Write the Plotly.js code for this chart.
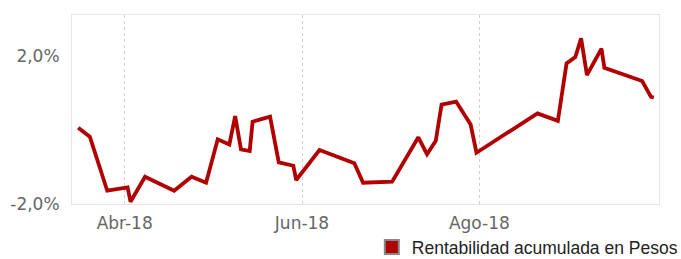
<!DOCTYPE html>
<html>
<head>
<meta charset="utf-8">
<script src="https://cdn.plot.ly/plotly-3.0.1.min.js"></script>
<style>html,body{margin:0;padding:0;background:#fff;}#chart{width:681px;height:259px;}</style>
</head>
<body>
<div id="chart"></div>
<script>
const dates = ['2018-03-16','2018-03-20','2018-03-26','2018-04-02','2018-04-03','2018-04-08','2018-04-18','2018-04-24','2018-04-29','2018-05-03','2018-05-07','2018-05-09','2018-05-11','2018-05-14','2018-05-15','2018-05-21','2018-05-24','2018-05-29','2018-05-30','2018-06-07','2018-06-19','2018-06-22','2018-07-02','2018-07-11','2018-07-14','2018-07-17','2018-07-19','2018-07-24','2018-07-29','2018-07-31','2018-08-21','2018-08-28','2018-08-31','2018-09-03','2018-09-05','2018-09-07','2018-09-12','2018-09-13','2018-09-26','2018-09-29','2018-09-30'];
const rentabilidad = [0.00062,-0.00181,-0.01641,-0.01549,-0.01938,-0.01262,-0.01641,-0.01262,-0.01424,-0.00251,-0.00392,0.00378,-0.00522,-0.00568,0.00224,0.00359,-0.00873,-0.00965,-0.01351,-0.00541,-0.00900,-0.01424,-0.01397,-0.00197,-0.00654,-0.00289,0.00689,0.00770,0.00149,-0.00614,0.00451,0.00249,0.01803,0.01973,0.02478,0.01486,0.02203,0.01684,0.01324,0.00900,0.00878];
const seriesName = 'Rentabilidad acumulada en Pesos';
const xTickVals = ['2018-04-01','2018-06-01','2018-08-01'];
const xTickText = ['Abr-18','Jun-18','Ago-18'];
const yTickVals = [-0.02, 0.02];
const yTickText = ['-2,0%','2,0%'];

const color = '#b00000';
const traces = [
  {x: dates, y: rentabilidad, type: 'scatter', mode: 'lines', showlegend: false,
   line: {color: color, width: 3.8}, hoverinfo: 'x+y'},
  {x: [null], y: [null], type: 'scatter', mode: 'markers', name: seriesName,
   marker: {symbol: 'square', size: 14, color: color, line: {color: '#888888', width: 2}}}
];
const layout = {
  width: 681, height: 259,
  margin: {l: 72, r: 22, t: 15, b: 55, autoexpand: false},
  paper_bgcolor: '#ffffff', plot_bgcolor: '#ffffff',
  separators: ',.',
  font: {family: 'DejaVu Sans, Verdana, sans-serif', size: 17, color: '#666666'},
  xaxis: {type: 'date', range: ['2018-03-13 21:00','2018-10-01 19:00'],
    tickvals: xTickVals, ticktext: xTickText, showgrid: true, gridcolor: '#d0d0d0', griddash: 'dot', gridwidth: 1,
    showline: true, mirror: true, linecolor: '#e6e6e6', linewidth: 1, zeroline: false,
    ticks: '', ticklabelstandoff: 4, tickfont: {size: 17, color: '#666666'}},
  yaxis: {range: [-0.02, 0.0311], tickvals: yTickVals, ticktext: yTickText, showgrid: false,
    showline: true, mirror: true, linecolor: '#e6e6e6', linewidth: 1, zeroline: false,
    ticks: '', ticklabelstandoff: 8, tickfont: {size: 17, color: '#666666'}},
  showlegend: true,
  legend: {orientation: 'h', xref: 'container', yref: 'container', x: 0.546, xanchor: 'left', y: 0.115, yanchor: 'top',
    font: {family: 'Liberation Sans, Arial, sans-serif', size: 17.5, color: '#222222'},
    bgcolor: 'rgba(0,0,0,0)'}
};
Plotly.newPlot('chart', traces, layout, {displayModeBar: false, staticPlot: true});
</script>
</body>
</html>
